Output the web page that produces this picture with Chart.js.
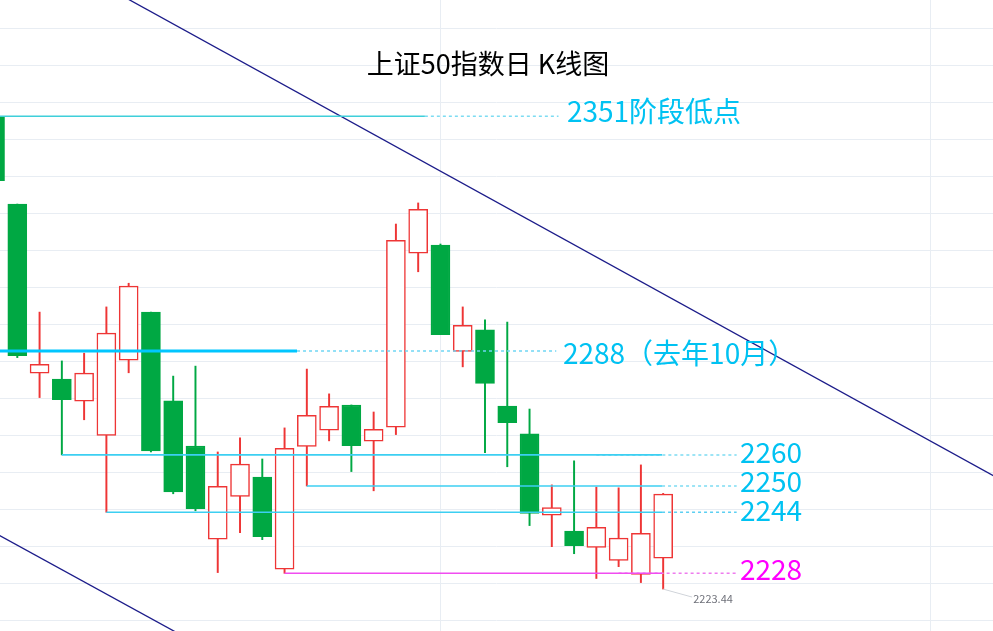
<!DOCTYPE html>
<html>
<head>
<meta charset="utf-8">
<script src="https://cdn.jsdelivr.net/npm/chart.js@4.4.0/dist/chart.umd.min.js"></script>
<style>
  html, body { margin: 0; padding: 0; background: #fff; overflow: hidden; }
  #wrap { width: 993px; height: 631px; position: relative; }
</style>
</head>
<body>
<div id="wrap"><canvas id="chart"></canvas></div>
<script>
const DAYS = [-1, 0, 1, 2, 3, 4, 5, 6, 7, 8, 9, 10, 11, 12, 13, 14, 15, 16, 17, 18, 19, 20, 21, 22, 23, 24, 25, 26, 27, 28, 29];
const OPEN  = [2351.1, 2327.5, 2281.8, 2280.2, 2274.2, 2265.0, 2285.3, 2298.3, 2274.3, 2262.1, 2236.9, 2248.5, 2253.7, 2228.8, 2262.0, 2266.4, 2273.2, 2263.4, 2267.2, 2314.2, 2316.4, 2287.7, 2293.5, 2272.9, 2265.4, 2243.4, 2239.1, 2234.7, 2231.2, 2227.4, 2231.8];
const HIGH  = [2351.1, 2327.5, 2298.3, 2285.1, 2287.2, 2299.7, 2306.1, 2298.3, 2281.0, 2283.7, 2260.5, 2264.3, 2258.6, 2267.0, 2282.9, 2276.2, 2273.2, 2271.3, 2322.1, 2327.8, 2316.7, 2299.7, 2296.2, 2295.6, 2272.1, 2251.6, 2258.1, 2251.0, 2250.8, 2257.0, 2249.3];
const LOW   = [2333.8, 2286.0, 2275.2, 2259.7, 2269.2, 2244.2, 2281.9, 2260.5, 2249.2, 2244.6, 2227.9, 2238.7, 2236.8, 2227.7, 2251.3, 2263.5, 2255.2, 2250.0, 2265.2, 2309.2, 2292.2, 2283.5, 2260.3, 2256.5, 2240.6, 2234.9, 2233.0, 2226.3, 2229.5, 2225.2, 2223.44];
const CLOSE = [2333.8, 2286.5, 2284.2, 2274.6, 2281.8, 2292.6, 2305.3, 2260.8, 2249.7, 2245.2, 2251.2, 2257.2, 2237.6, 2261.5, 2270.4, 2272.8, 2262.2, 2266.6, 2317.7, 2326.1, 2292.2, 2294.7, 2279.0, 2268.4, 2243.9, 2245.5, 2235.2, 2240.1, 2237.2, 2238.5, 2249.1];

// support levels: drawn price, label, start day, end of solid part, dotted part, label day
const LEVELS = [2351.2, 2287.8, 2259.7, 2251.3, 2244.2, 2227.7];
const LEVEL_LABELS = ["2351阶段低点", "2288（去年10月）", "2260", "2250", "2244", "2228"];
const LEVEL_FROM = [-1.5, -1.5, 2, 13, 4, 12];
const LEVEL_SOLID_TO = [18.3, 12.56, 28.95, 28.95, 28.95, 28.95];
const LEVEL_DOT_FROM = [18.3, 12.56, 26.0, 28.95, 28.95, 27.0];
const LEVEL_DOT_TO = [24.3, 24.2, 32.3, 32.3, 32.3, 32.3];
const LABEL_DAY = [24.68, 24.5, 32.45, 32.45, 32.45, 32.45];

// channel lines (day, price)
const CHANNEL_TOP_DAYS = [-1, 45];
const CHANNEL_TOP = [2402.7, 2250.2];
const CHANNEL_BOTTOM_DAYS = [-1, 10];
const CHANNEL_BOTTOM = [2238.6, 2202.3];

const Y_GRID = [2215, 2225, 2235, 2245, 2255, 2265, 2275, 2285, 2295, 2305, 2315, 2325, 2335, 2345, 2355, 2365, 2375];
const X_GRID = [19, 41];

const TITLE = "上证50指数日 K线图";
const LOW_NOTE = "2223.44";

const UP = "#ee3535";
const DOWN = "#00a843";
const CJK = '"Noto Sans CJK SC", "Noto Sans", sans-serif';

const LEVEL_COLORS = ["#3fcfda", "#00c6ff", "#3ccff2", "#3ccff2", "#3ccff2", "#f04cf0"];
const LEVEL_WIDTHS = [1.5, 3, 1.6, 1.6, 1.6, 1.6];
const DOT_COLORS = ["#7ddcf2", "#6fd6f4", "#7ddcf2", "#7ddcf2", "#5ccff2", "#ee7cee"];
const LABEL_COLORS = ["#00c2f2", "#00c2f2", "#00c2f2", "#00c2f2", "#00c2f2", "#ff00ff"];
const LABEL_DY = [-5, 2, -3, -5, -2, -4];

const isUp = i => CLOSE[i] >= OPEN[i];

const datasets = [
  {
    type: "bar",
    data: DAYS.map((d, i) => ({ x: d, y: [OPEN[i], CLOSE[i]] })),
    backgroundColor: DAYS.map((_, i) => isUp(i) ? "#ffffff" : DOWN),
    borderColor: DAYS.map((_, i) => isUp(i) ? UP : DOWN),
    borderWidth: 1.5,
    borderSkipped: false,
    barThickness: 19,
    grouped: false,
    order: 1,
  },
  {
    type: "bar",
    data: DAYS.map((d, i) => ({ x: d, y: [LOW[i], HIGH[i]] })),
    backgroundColor: DAYS.map((_, i) => isUp(i) ? UP : DOWN),
    borderWidth: 0,
    barThickness: 1.3,
    grouped: false,
    order: 2,
  },
];

LEVELS.forEach((lv, k) => {
  datasets.push({
    type: "line",
    data: [{ x: LEVEL_FROM[k], y: lv }, { x: LEVEL_SOLID_TO[k], y: lv }],
    borderColor: LEVEL_COLORS[k],
    borderWidth: LEVEL_WIDTHS[k],
    pointRadius: 0,
    order: 0,
  });
  datasets.push({
    type: "line",
    data: [{ x: LEVEL_DOT_FROM[k], y: lv }, { x: LEVEL_DOT_TO[k], y: lv }],
    borderColor: DOT_COLORS[k],
    borderWidth: 1.5,
    borderDash: [3, 3],
    pointRadius: 0,
    order: 0,
  });
});

datasets.push({
  type: "line",
  data: CHANNEL_TOP_DAYS.map((d, i) => ({ x: d, y: CHANNEL_TOP[i] })),
  borderColor: "#1c1c8a",
  borderWidth: 1.3,
  pointRadius: 0,
  order: 0,
});
datasets.push({
  type: "line",
  data: CHANNEL_BOTTOM_DAYS.map((d, i) => ({ x: d, y: CHANNEL_BOTTOM[i] })),
  borderColor: "#1c1c8a",
  borderWidth: 1.3,
  pointRadius: 0,
  order: 0,
});

const textPlugin = {
  id: "texts",
  afterDraw(chart) {
    const { ctx, scales: { x, y } } = chart;
    ctx.save();
    ctx.textBaseline = "middle";

    ctx.fillStyle = "#000";
    ctx.font = `27px ${CJK}`;
    ctx.textAlign = "center";
    ctx.fillText(TITLE, 488, 64);

    ctx.textAlign = "left";
    ctx.font = `28px ${CJK}`;
    LEVELS.forEach((lv, k) => {
      ctx.fillStyle = LABEL_COLORS[k];
      ctx.fillText(LEVEL_LABELS[k], x.getPixelForValue(LABEL_DAY[k]), y.getPixelForValue(lv) + LABEL_DY[k]);
    });

    // lowest low note
    const last = DAYS.length - 1;
    const px = x.getPixelForValue(DAYS[last]);
    const py = y.getPixelForValue(LOW[last]);
    ctx.strokeStyle = "#d0d4da";
    ctx.lineWidth = 1;
    ctx.beginPath();
    ctx.moveTo(px, py);
    ctx.lineTo(px + 29, py + 8);
    ctx.stroke();
    ctx.fillStyle = "#6e7079";
    ctx.font = `11px ${CJK}`;
    ctx.fillText(LOW_NOTE, px + 30, py + 10);
    ctx.restore();
  },
};

new Chart(document.getElementById("chart"), {
  type: "bar",
  data: { datasets },
  options: {
    responsive: true,
    maintainAspectRatio: false,
    animation: false,
    events: [],
    layout: { padding: 0 },
    plugins: { legend: { display: false }, tooltip: { enabled: false }, title: { display: false } },
    scales: {
      x: {
        type: "linear",
        min: -0.777,
        max: 43.81,
        offset: false,
        afterBuildTicks(scale) { scale.ticks = X_GRID.map(v => ({ value: v })); },
        ticks: { display: false },
        grid: { offset: false, drawTicks: false, color: "#e8edf3", lineWidth: 1 },
        border: { display: false },
      },
      y: {
        type: "linear",
        min: 2212.11,
        max: 2382.65,
        beginAtZero: false,
        afterBuildTicks(scale) { scale.ticks = Y_GRID.map(v => ({ value: v })); },
        ticks: { display: false },
        grid: { drawTicks: false, color: "#e8edf3", lineWidth: 1 },
        border: { display: false },
      },
    },
  },
  plugins: [textPlugin],
});
</script>
</body>
</html>
